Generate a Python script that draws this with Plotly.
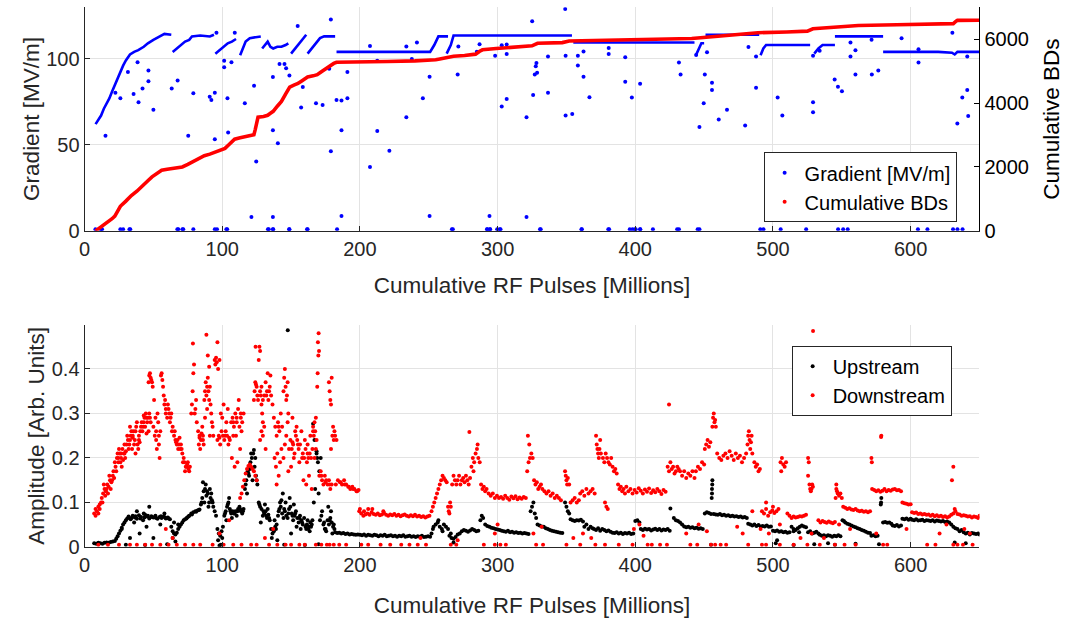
import plotly.graph_objects as go

# ---------------- Top panel data ----------------
# Gradient [MV/m]: dense conditioning plateaus (each sub-list is one continuous run)
grad_runs = [
    [(8, 62), (10, 64.5), (12, 67), (14, 71), (16, 74), (18, 77), (20, 81), (22, 85), (24, 88.5), (26, 92),
     (28, 96), (30, 99), (33, 102.5), (36, 104), (39, 105), (43, 107), (46, 109), (50, 111), (54, 113),
     (58, 114.5), (63, 114)],
    [(64, 104), (67, 106), (70, 108), (73, 110), (76, 111), (78, 113), (84, 113.5), (88, 113), (91, 113), (94, 114)],
    [(95, 103), (98, 105), (101, 107), (104, 109), (107, 110), (110, 111.5)],
    [(113, 102), (115, 106), (117, 110), (120, 112), (124, 112.5), (128, 113)],
    [(129, 106), (131, 108), (133, 110), (135, 107), (137, 106), (140, 107), (143, 107), (146, 108), (148, 109)],
    [(150, 103), (153, 106), (156, 109), (159, 112), (161, 114)],
    [(162, 103), (165, 106), (168, 109), (171, 112), (174, 113), (178, 113), (182, 113)],
    [(183, 104), (200, 104), (220, 104), (240, 104), (251, 104), (254, 108), (257, 113), (264, 113)],
    [(263, 103), (266, 108), (268, 113.5), (290, 113.5), (320, 113.5), (354, 113.5)],
    [(355, 109.5), (380, 109.5), (410, 109.5), (443, 109.5)],
    [(444, 102), (446, 106), (448, 109), (450, 109)],
    [(451, 114), (470, 114), (490, 114)],
    [(491, 102), (493, 106), (495, 108), (510, 108), (527, 108)],
    [(530, 103), (533, 106), (536, 108), (545, 108)],
    [(545, 113), (560, 113), (580, 113)],
    [(580, 104), (600, 104), (620, 104), (630, 103.5), (632, 102.5), (634, 104), (650, 104)],
]

# Gradient [MV/m]: isolated pulses (off-plateau points)
grad_points = [
    (15.2, 55.2), (22.4, 80.3), (26, 77.1), (31.5, 92.3), (35.6, 79.5), (38.5, 98), (39.2, 74.8), (42.1, 82.8),
    (46.4, 93.2), (46.4, 86.9), (50, 70.4), (63.3, 82.8), (67.6, 87.4), (75.3, 55.2), (79, 79.9), (90.9, 78),
    (92.1, 76.1), (94.6, 80.3), (94.6, 53.3), (95.8, 115.2), (101.4, 98.9), (101.4, 95.1), (103.8, 77.1),
    (104.3, 57.1), (106.7, 98), (109.1, 115.2), (116.4, 74.2), (121.2, 8), (123.1, 84.3), (124.7, 40.3),
    (136.8, 89.4), (136.8, 58.4), (136.8, 8), (140.4, 50.9), (141.6, 96.9), (145.2, 96.9), (146.4, 94.5),
    (148.8, 90.3), (154.8, 119), (158.5, 83.6), (157.3, 71.7), (168.1, 74.2), (172.9, 73.2), (177.7, 94.2),
    (178.9, 122.8), (178.9, 46.2), (183, 76.1), (186.6, 58.4), (186.6, 8.6), (186.6, 75.8), (190.9, 77.1),
    (190.9, 92.3), (207.3, 107.5), (207.3, 37.1), (212.6, 98.9), (212.6, 58), (221.4, 46.6), (233.7, 107.2),
    (233.7, 66), (237.7, 99.9), (241.4, 109.4), (245.7, 77.1), (250.6, 89.5), (250.6, 8.6), (271, 90.8),
    (271.5, 107.2), (284.9, 104.1), (286.9, 108.5), (294.1, 8.6), (298.2, 101.8), (303, 72.3), (303, 107.9),
    (306.6, 108.3), (306.6, 76.7), (306.6, 102.8), (321, 66), (321, 8), (325.1, 121.8), (325.8, 79),
    (327, 90.8), (327.7, 95.6), (328.2, 97.5), (328.7, 91.9), (336.6, 101.4), (336.6, 80.3), (349.1, 128.9),
    (349.4, 101.8), (349.4, 67), (354.2, 67.9), (358.3, 101.8), (358.3, 96.1), (362.4, 104.3), (362.4, 89.6),
    (366.7, 77.6), (380.7, 106.2), (380.7, 102.8), (392.7, 100.9), (392.7, 86.6), (397.5, 77.5), (403.5, 85.5),
    (431.7, 97.9), (432.9, 90.8), (444.2, 102.2), (446.6, 60.3), (449.7, 74.2), (450.5, 90.8), (452.1, 103.8),
    (455.7, 86.1), (455.7, 81.8), (460.6, 64.7), (466.6, 70.4), (479.8, 61.3), (482.2, 106.9), (487.7, 83.2),
    (487.7, 101.4), (503.4, 77.5), (506.8, 67), (529.1, 74.8), (529.1, 68.9), (529.1, 101.8), (533.9, 104.6),
    (544.8, 87.9), (547.2, 83.7), (550.1, 81.2), (556.3, 109.4), (556.3, 101.4), (559.9, 105), (559.9, 90.8),
    (571.8, 90.8), (571.6, 111.1), (576.5, 93.2), (593.4, 111.9), (605.7, 105.6), (605.7, 97.9), (618.2, 7.6),
    (630.3, 8.6), (630.3, 115.2), (633.9, 62.4), (637.5, 77.5), (641.1, 81.8), (641.8, 66.8), (641.1, 101.4),
    # pulses recorded at ~zero gradient
    (7.9, 1), (11.8, 1), (12.7, 1), (26, 1), (28, 1), (32.6, 1), (33.2, 1), (67.4, 1), (68.1, 1), (71.1, 1),
    (71.7, 1), (79, 1), (94.6, 1), (96.2, 1), (103, 1), (103.6, 1), (133.2, 1), (133.8, 1), (136.8, 1),
    (137, 1), (148.6, 1), (148.8, 1), (161.6, 1), (162, 1), (183.4, 1), (266.8, 1), (267.5, 1), (292.3, 1),
    (292.5, 1), (294.4, 1), (294.6, 1), (299.7, 1), (301.6, 1), (302.1, 1), (330.8, 1), (331.3, 1),
    (360.9, 1), (361.2, 1), (380.4, 1), (381, 1), (396, 1), (398, 1), (399.9, 1), (400.3, 1), (403.5, 1),
    (403.6, 1), (412.8, 1), (430.4, 1), (431.7, 1), (445.3, 1), (446.6, 1), (490.8, 1), (493.1, 1),
    (505.6, 1), (524.1, 1), (547.3, 1), (551, 1), (554.3, 1), (605.3, 1), (612.2, 1), (630.8, 1), (634, 1),
    (637.7, 1),
]

# Cumulative breakdowns
bd_x = [8, 10, 15, 20, 22, 26, 30, 34, 38, 42, 46, 49, 53, 56, 60, 63, 67, 71, 75, 78, 82, 87, 91, 95, 99,
        102, 104, 107, 109, 113, 116, 120, 123, 124, 125, 126, 130, 133, 135, 137, 140, 143, 146, 149, 152,
        155, 158, 162, 166, 169, 172, 175, 178, 181, 183, 200, 220, 240, 251, 255, 258, 263, 268, 276, 284,
        287, 289, 299, 310, 320, 325, 329, 340, 347, 352, 380, 410, 441, 460, 489, 510, 525, 529, 545, 562,
        590, 615, 631, 633, 634, 650]
bd_y = [0, 60, 206, 380, 461, 768, 930, 1107, 1240, 1390, 1570, 1691, 1800, 1895, 1925, 1946, 1965, 2000,
        2080, 2152, 2240, 2350, 2400, 2459, 2520, 2580, 2664, 2780, 2869, 2910, 2941, 2975, 3010, 3177, 3400,
        3556, 3580, 3617, 3680, 3740, 3900, 4048, 4280, 4500, 4560, 4611, 4700, 4816, 4850, 4888, 4980, 5072,
        5150, 5240, 5276, 5280, 5300, 5320, 5330, 5355, 5380, 5420, 5462, 5490, 5530, 5620, 5666, 5708, 5740,
        5770, 5790, 5871, 5885, 5892, 5943, 5970, 6000, 6020, 6090, 6200, 6225, 6250, 6323, 6370, 6425, 6450,
        6470, 6486, 6560, 6588, 6590]

# ---------------- Bottom panel data ----------------
upstream = [
    (7, .008), (8.5, .007), (10, .009), (11.5, .008), (13, .007), (14.5, .009), (16, .010), (17.5, .009),
    (19, .011), (20.5, .012), (22, .013),
    (23, .018), (24, .024), (25, .030), (26, .036), (27, .043), (28, .050), (29, .055), (30, .060), (31, .064),
    (32, .068), (33.5, .062), (35, .070), (36.5, .066), (38, .063), (39.5, .071), (41, .067), (42.5, .060),
    (44, .072), (45.5, .068), (47, .064), (48.5, .069), (50, .066), (51.5, .070), (53, .063), (54.5, .067),
    (56, .065), (57.5, .068), (59, .064), (60.5, .066), (62, .062),
    (34, .065), (37, .069), (40.5, .064), (43.5, .066), (46, .07), (49, .067), (52, .065), (55.5, .069),
    (58.5, .066), (61, .064),
    (27, .04), (33, .02), (40, .03), (45, .045), (50, .02), (55, .05), (38, .08), (47, .09), (58, .075),
    (43, .075), (36, .055),
    (63, .045), (64, .035), (65, .03), (66, .028), (67, .032), (68, .04), (69, .045), (70, .05), (71, .055),
    (72, .06), (64, .02), (66, .012), (68, .05), (65, .055),
    (73, .062), (74.5, .066), (76, .07), (77.5, .075), (79, .078), (80.5, .08), (82, .082), (83.5, .084),
    (74, .064), (75.5, .068), (78, .073), (81, .079), (83, .083),
    (84.5, .095), (85.5, .11), (86.5, .125), (87.5, .13), (88.5, .115), (89.5, .12), (90.5, .10), (91.5, .11),
    (92.5, .105), (93.5, .09), (94.5, .08), (95.5, .07), (86, .145), (88, .14), (90, .09), (92, .12),
    (87, .10), (91, .13), (85, .1), (89, .125), (93, .1),
    (96.5, .04), (97.5, .03), (98.5, .025), (99.5, .035), (100.5, .045), (97, .015), (99, .005), (100, .02),
    (101.5, .07), (102.5, .08), (103.5, .09), (104.5, .10), (105.5, .085), (106.5, .075), (107.5, .08),
    (103, .06), (105, .11), (107, .065), (102, .075), (104, .095), (106, .08),
    (108.5, .075), (109.5, .08), (110.5, .07), (111.5, .085), (112.5, .09), (113.5, .08), (114.5, .075),
    (115.5, .085), (109, .075), (111, .08), (113, .085), (115, .08),
    (116.5, .13), (117.5, .15), (118.5, .17), (119.5, .16), (120.5, .19), (121.5, .2), (122.5, .21),
    (123.5, .18), (124.5, .16), (125.5, .14), (118, .12), (120, .175), (122, .15), (124, .2), (121, .21),
    (123, .218), (117, .14), (119, .165), (125, .15),
    (126.5, .1), (127.5, .09), (128.5, .085), (129.5, .07), (130.5, .075), (131.5, .08), (132.5, .065),
    (133.5, .072), (134.5, .06), (128, .055), (131, .095), (133, .085), (127, .095), (130, .08), (132, .07),
    (134, .065),
    (135.5, .04), (136.5, .03), (137.5, .035), (138.5, .045), (139.5, .05), (140.5, .07), (141.5, .085),
    (142.5, .09), (143.5, .075), (144.5, .065), (136, .02), (138, .06), (140, .015), (142, .1), (144, .12),
    (143, .105), (139, .04), (141, .08),
    (145.5, .08), (146.5, .07), (147.5, .065), (148.5, .085), (149.5, .09), (150.5, .075), (151.5, .06),
    (152.5, .07), (153.5, .08), (154.5, .065), (155.5, .055), (156.5, .07), (157.5, .06), (158.5, .05),
    (159.5, .065), (147.6, .487), (146, .1), (149, .11), (152, .095), (154, .045), (157, .04), (150, .03),
    (145, .085), (148, .075), (151, .07), (153, .075), (156, .065), (158, .055),
    (160.5, .045), (161.5, .05), (162.5, .04), (163.5, .035), (164.5, .045), (165.5, .06), (166.5, .1),
    (167.5, .13), (168.5, .21), (169.5, .19), (170.5, .17), (171.5, .2), (172.5, .08), (173.5, .05),
    (174.5, .04), (175.5, .035), (166, .277), (167, .24), (168.5, .215), (169, .2), (162, .06), (164, .055),
    (170, .12), (171, .06), (174, .055), (161, .04), (163, .045), (165, .05), (172, .07), (175, .04),
    (176.5, .06), (177.5, .05), (178.5, .065), (179.5, .055), (180.5, .045), (181.5, .04), (177, .09),
    (179, .08), (180, .03), (178, .06), (181, .05),
    (182, .033), (183.5, .031), (185, .032), (186.5, .030), (188, .031), (189.5, .029), (191, .030),
    (192.5, .028), (194, .029), (195.5, .028), (197, .027), (198.5, .028),
    (200, .027), (201.5, .026), (203, .028), (204.5, .025), (206, .027), (207.5, .026), (209, .025),
    (210.5, .027), (212, .026), (213.5, .024), (215, .026), (216.5, .025), (218, .027), (219.5, .024),
    (221, .025), (222.5, .026), (224, .024), (225.5, .025), (227, .023), (228.5, .025), (230, .024),
    (231.5, .026), (233, .023), (234.5, .024), (236, .025), (237.5, .023), (239, .024), (240.5, .022),
    (242, .024), (243.5, .023), (245, .025), (246.5, .022), (248, .023), (249.5, .024), (251, .023),
    (252, .03), (253, .04), (253.5, .045), (255, .05), (256.5, .055), (258, .045), (259.5, .04), (261, .05),
    (262.5, .045), (264, .04), (257, .06), (260, .035),
    (265, .025), (266.5, .02), (268, .018), (269.5, .022), (271, .028), (272.5, .03), (266, .03), (268, .01),
    (274, .035), (275.5, .038), (277, .036), (278.5, .034), (280, .037), (281.5, .04), (283, .038),
    (284.5, .035), (286, .036),
    (287.5, .06), (288.5, .07), (289.5, .065),
    (291, .05), (292.5, .047), (294, .045), (295.5, .043), (297, .042), (298.5, .04), (300, .039),
    (301.5, .038),
    (303, .036), (304.5, .035), (306, .034), (307.5, .036), (309, .033), (310.5, .034), (312, .032),
    (313.5, .033), (315, .031), (316.5, .032), (318, .030), (319.5, .031), (321, .030), (322.5, .029),
    (324, .08), (325, .09), (326, .1), (327, .075), (328, .065),
    (329, .05), (330.5, .048), (332, .046), (333.5, .045), (335, .042), (336.5, .04), (338, .038),
    (339.5, .036), (341, .035), (342.5, .034), (344, .033), (345.5, .032), (347, .031),
    (349, .1), (350, .09), (351, .08), (352, .075),
    (353, .062), (354.5, .06), (356, .058), (357.5, .06), (359, .059), (360.5, .061), (362, .057),
    (363, .045), (364.5, .05), (366, .04), (367.5, .045), (369, .042),
    (370, .04), (371.5, .038), (373, .042), (374.5, .036), (376, .04), (377.5, .038), (379, .035),
    (380.5, .037), (382, .034),
    (383.5, .032), (385, .031), (386.5, .033), (388, .03), (389.5, .032), (391, .029), (392.5, .031),
    (394, .03), (395.5, .032), (397, .029), (398.5, .03),
    (400, .058), (401.5, .06), (403, .055),
    (404, .04), (405.5, .038), (407, .041), (408.5, .039), (410, .04), (411.5, .037), (413, .039),
    (414.5, .041), (416, .038), (417.5, .04), (419, .037), (420.5, .039), (422, .038), (423.5, .04),
    (425, .036), (425.5, .086),
    (428, .065), (429.5, .06), (431, .058), (432.5, .055), (434, .05),
    (435.5, .046), (437, .044), (438.5, .045), (440, .043), (441.5, .044), (443, .042), (444.5, .043),
    (446, .041), (447.5, .042), (449, .04),
    (450.5, .075), (452, .078), (453.5, .076), (455, .074),
    (455.7, .12), (455.7, .13), (455.9, .14), (456, .15), (455.5, .11),
    (457, .074), (458.5, .073), (460, .072), (461.5, .074), (463, .071), (464.5, .072), (466, .07),
    (467.5, .071), (469, .069), (470.5, .07), (472, .068), (473.5, .069), (475, .067), (476.5, .068),
    (478, .066), (479.5, .067), (481, .065),
    (482, .052), (483.5, .05), (485, .048), (486.5, .05), (488, .047), (489.5, .049), (491, .046),
    (492.5, .047), (494, .046), (495.5, .048), (497, .045), (498.5, .046),
    (500, .036), (501.5, .035), (503, .037), (504.5, .034), (506, .035), (507.5, .033), (509, .034),
    (510.5, .032), (512, .033),
    (513.5, .045), (515, .04), (516.5, .038), (518, .042), (519.5, .045), (521, .048), (522.5, .046),
    (524, .044), (515, .035), (519, .033),
    (525.5, .033), (527, .035), (528.5, .03), (530, .032), (531.5, .034), (533, .03),
    (534, .027), (535.5, .025), (537, .026), (538.5, .024), (540, .026), (541.5, .025), (543, .023),
    (544.5, .025), (546, .024), (547.5, .026), (549, .024),
    (550.5, .06), (551.5, .058),
    (552.5, .055), (554, .052), (555.5, .05), (557, .048), (558.5, .046), (560, .044), (561.5, .042),
    (563, .04), (564.5, .038), (566, .036), (567.5, .034), (569, .032), (570.5, .031),
    (571.5, .025), (573, .026), (574.5, .024), (576, .025),
    (578.5, .1), (578.7, .11), (578.3, .095),
    (580, .055), (581.5, .056), (583, .054), (584.5, .055), (586, .052),
    (587, .048), (588.5, .047), (590, .049), (591.5, .046), (593, .048),
    (594, .063), (595.5, .062), (597, .064), (598.5, .061), (600, .063),
    (601, .061), (602.5, .06), (604, .062), (605.5, .059), (607, .06), (608.5, .061), (610, .058),
    (611.5, .06), (613, .059), (614.5, .058), (616, .06), (617.5, .057), (619, .059), (620.5, .058),
    (622, .057), (623.5, .058), (625, .056), (626.5, .057), (628, .055),
    (629.5, .05), (631, .045), (632.5, .042), (634, .04), (635.5, .035), (637, .038), (638.5, .033),
    (640, .03), (641.5, .032), (643, .028), (644.5, .031), (646, .03), (647.5, .029), (649, .03), (650, .028),
    (30, .005), (44, .004), (60, .006), (98, .003), (145, .005), (160, .004), (170, .006), (455, .005),
    (502, .008), (503, .015), (515, .004), (530, .006), (540, .008), (545, .005), (560, .007), (577, .006),
    (632, .01), (640, .008),
]

downstream = [
    (7, .075), (8, .085), (9, .08), (10, .09), (11, .095), (12, .1), (8, .07), (10, .075), (11, .085),
    (12.5, .11), (13.5, .12), (14.5, .13), (15.5, .125), (16.5, .14), (17.5, .135), (18.5, .15), (19.5, .145),
    (20.5, .16), (21.5, .155), (13, .1), (15, .115), (17, .12), (19, .13), (21, .17), (14, .14), (18, .16),
    (16, .13), (20, .15), (22, .19),
    (22.5, .18), (23.5, .2), (24.5, .19), (25.5, .21), (26.5, .2), (27.5, .22), (28.5, .21), (29.5, .2),
    (30.5, .23), (23, .17), (25, .22), (27, .18), (29, .23), (24, .21), (26, .19), (28, .195), (30, .215),
    (24.5, .2), (26.5, .21), (29, .21),
    (31.5, .24), (32.5, .23), (33.5, .25), (34.5, .22), (35.5, .26), (36.5, .24), (37.5, .27), (38.5, .23),
    (39.5, .25), (40.5, .26), (32, .22), (34, .26), (36, .23), (38, .28), (40, .235), (33, .27), (35, .245),
    (37, .21), (39, .22), (31, .25), (33, .24), (35, .25), (37, .26), (39.5, .24),
    (41.5, .28), (42.5, .27), (43.5, .29), (44.5, .3), (45.5, .28), (46.5, .26), (47.5, .29), (42, .26),
    (44, .27), (46, .29), (43, .295), (45, .255), (47, .3), (41, .27), (43, .28), (45, .29), (48, .28),
    (46.5, .37), (47, .385), (47.5, .39), (48, .38), (48.5, .375), (49, .37), (49.5, .36),
    (50, .27), (51, .25), (52, .24), (53, .3), (54, .23), (55, .26), (50.5, .33), (51.5, .29), (52.5, .22),
    (53.5, .28), (54.5, .2), (52, .26), (54, .25),
    (55.5, .385), (56, .39), (56.5, .375), (57, .36), (57.5, .34),
    (58, .32), (59, .3), (60, .29), (61, .31), (62, .28), (63, .3), (64, .27), (58.5, .33), (60.5, .32),
    (62.5, .29), (63.5, .26), (59, .31), (61.5, .3),
    (65, .25), (66, .24), (67, .23), (68, .22), (69, .245), (70, .23), (71, .21), (72, .2), (65.5, .26),
    (67.5, .24), (69.5, .22), (71.5, .19), (66.5, .235), (68.5, .23), (70.5, .22),
    (72.5, .19), (73.5, .18), (74.5, .185), (75.5, .175), (76.5, .18), (73, .17), (75, .19), (76, .17),
    (74, .18),
    (77.5, .3), (78, .32), (78.5, .35), (79, .39), (79.5, .41), (80, .3), (80.5, .31), (81, .33), (81.5, .28),
    (78.7, .457),
    (82.5, .26), (83.5, .25), (84.5, .24), (85.5, .27), (86.5, .23), (83, .23), (85, .255), (86, .24),
    (84, .22), (83.5, .245), (86, .25),
    (87, .33), (87.5, .35), (88, .37), (88.5, .34), (89, .36), (89.5, .38), (90, .35), (90.5, .33), (91, .36),
    (91.5, .32), (92, .3), (92.5, .28), (88.5, .477), (89.5, .43), (90.5, .405), (87.5, .29), (93, .27),
    (93.5, .25), (91, .25), (89, .31),
    (94.5, .42), (95, .41), (95.5, .425), (96, .415), (96.5, .46), (97, .4), (98, .42),
    (96.5, .24), (97.5, .25), (98.5, .23), (99.5, .26), (100.5, .25), (101.5, .24), (102.5, .26),
    (103.5, .25), (104.5, .23), (105.5, .24), (99, .3), (101, .32), (103, .28), (104, .31), (100, .29),
    (98, .245), (102, .25), (105, .245),
    (106.5, .28), (107.5, .29), (108.5, .27), (109.5, .3), (110.5, .28), (111.5, .31), (112.5, .27),
    (113.5, .29), (114.5, .28), (115.5, .3), (107, .2), (109, .18), (111, .19), (113, .22), (108, .25),
    (110, .25), (112, .33), (114, .26), (108, .28), (110.5, .29), (113.5, .3),
    (113, .11), (114, .12), (115, .135), (116, .15), (117, .165), (118, .175), (119, .182), (120, .185),
    (121, .18), (122, .175), (123, .17), (124, .16), (125, .15),
    (123, .33), (123.5, .35), (124, .37), (124.5, .365), (125, .36), (125.5, .34), (126, .33), (126.5, .42),
    (127, .45), (127.5, .44), (128, .34), (128.5, .32), (129, .3), (129.5, .28), (124.2, .45),
    (127.5, .35), (128.5, .36), (129.5, .33), (130.5, .34), (131.5, .37), (132.5, .35), (133.5, .33),
    (134.5, .36), (135.5, .34), (136.5, .32), (127.5, .24), (128.5, .26), (129.5, .25), (130.5, .27),
    (131.5, .22), (133, .39), (135, .385), (132, .34), (134, .35),
    (137.5, .29), (138.5, .27), (139.5, .25), (140.5, .28), (141.5, .26), (142.5, .3), (143.5, .27),
    (138, .2), (139, .18), (140, .21), (141, .16), (142, .19), (143, .22), (139.5, .14), (141, .27),
    (144.5, .35), (145, .38), (145.5, .4), (146, .36), (146.5, .33), (147, .34), (147.5, .37), (148, .3),
    (144.5, .2), (145.5, .23), (146.5, .25), (147.5, .28), (148.5, .22), (148, .17),
    (149.5, .24), (150.5, .22), (151.5, .23), (152.5, .21), (153.5, .25), (154.5, .24), (155.5, .22),
    (156.5, .23), (157.5, .26), (150, .18), (152, .2), (154, .27), (156, .19), (151, .29), (153, .26),
    (151, .235), (155, .23), (158, .2),
    (158.5, .21), (159.5, .2), (160.5, .22), (161.5, .19), (162.5, .2), (163.5, .21), (164.5, .2),
    (165.5, .22), (159, .15), (161, .14), (163, .16), (165, .13), (160, .24), (162, .23), (164, .25),
    (162, .21),
    (166, .27), (166.5, .25), (167, .28), (167.5, .26), (168, .29), (168.5, .24), (169.5, .46), (170, .48),
    (170.3, .44), (169.8, .43), (169, .36), (169.3, .39), (167, .2), (168, .22), (166, .26),
    (170.5, .16), (171.5, .17), (172.5, .15), (173.5, .14), (174.5, .16), (175.5, .15), (176.5, .14),
    (177.5, .15), (178.5, .13), (179.5, .14), (172, .16), (175, .145), (178, .14),
    (177.5, .37), (178, .35), (178.5, .33), (179, .32), (179.5, .38), (180, .25), (180.5, .27), (181, .24),
    (181.5, .26), (182, .25), (183, .24), (179, .22),
    (182.5, .14), (184, .15), (185.5, .145), (187, .14), (188.5, .15), (190, .14), (191.5, .135), (193, .13),
    (194.5, .135), (196, .13), (197.5, .125), (199, .128), (186, .145), (189, .14), (192, .135), (195, .13),
    (198, .125),
    (199.5, .08), (201, .075), (202.5, .07), (204, .073), (205.5, .075), (207, .072), (208.5, .078),
    (200, .085), (203, .08), (206, .085),
    (210, .074), (211.5, .072), (213, .075), (214.5, .071), (216, .073), (217.5, .076), (219, .072),
    (220.5, .07), (222, .073), (223.5, .071), (225, .074), (226.5, .07), (228, .072), (229.5, .069),
    (231, .071), (232.5, .073), (234, .07), (235.5, .068), (237, .071), (238.5, .069), (240, .072),
    (241.5, .068), (243, .07), (244.5, .067), (246, .069), (247.5, .066), (249, .068), (250.5, .07),
    (209, .085), (217, .08),
    (252, .08), (253, .09), (254, .1), (255, .11), (256, .12), (257, .13), (258, .14), (259, .15), (260, .16),
    (261, .155),
    (262, .15), (263, .145), (264, .09), (264.5, .08), (265, .075), (265.5, .1), (266, .09), (267, .14),
    (268, .16), (269, .15), (270, .14),
    (271, .15), (272, .16), (273, .14), (274, .15), (275, .155), (276, .145), (277, .16), (278, .15),
    (279, .14), (280, .155), (279.5, .258),
    (281, .18), (282, .2), (283, .19), (284, .21), (285, .22), (286, .2), (287, .19), (282.5, .17),
    (285.5, .23),
    (288, .14), (289, .13), (290, .135), (291, .125), (292, .13), (293.5, .12), (295, .115), (296.5, .12),
    (298, .11), (299.5, .115), (301, .11),
    (302.5, .112), (304, .108), (305.5, .115), (307, .11), (308.5, .106), (310, .113), (311.5, .109),
    (313, .114), (314.5, .107), (316, .111), (317.5, .108), (319, .112), (320.5, .11),
    (321.5, .17), (322.5, .19), (323.5, .2), (324.5, .21), (325.5, .2), (322, .25), (323, .23),
    (326.5, .15), (327.5, .14), (328.5, .145), (329.5, .13), (330.5, .135), (331.5, .14), (332.5, .13),
    (334, .125), (335.5, .12), (337, .125), (338.5, .115), (340, .12), (341.5, .11), (343, .115),
    (344.5, .11), (346, .105),
    (349, .17), (349.5, .16), (350, .15), (350.5, .14), (351, .155), (352, .14),
    (353, .1), (354.5, .105), (356, .11), (357.5, .1), (359, .105),
    (360, .12), (361.5, .125), (363, .115), (364.5, .13), (366, .12), (367.5, .125), (369, .13), (370.5, .12),
    (371.5, .25), (372, .23), (372.5, .22), (373, .21), (373.5, .2), (374, .22), (374.5, .24), (375, .21),
    (376.5, .2), (377.5, .19), (378.5, .21), (379.5, .2), (380.5, .19), (381.5, .185), (382.5, .2),
    (378, .1), (379, .09), (380, .085),
    (383.5, .18), (384.5, .17), (385.5, .175), (386.5, .165),
    (387.5, .14), (388.5, .13), (389.5, .135), (390.5, .125), (391.5, .13), (392.5, .12), (393.5, .135),
    (395, .125), (396.5, .13), (398, .12), (399.5, .128), (401, .122), (402.5, .132), (404, .126),
    (405.5, .12), (407, .129), (408.5, .124), (410, .131), (411.5, .121), (413, .127), (414.5, .123),
    (416, .13), (417.5, .125), (419, .119), (420.5, .128), (422, .124),
    (423.5, .18), (424.5, .17), (425.5, .19), (426.5, .175), (427.5, .18), (428.5, .165), (429.5, .17),
    (430.5, .18), (431.5, .175), (432.5, .17), (424.5, .32),
    (434, .16), (435.5, .17), (437, .155), (438.5, .165), (440, .16), (441.5, .17), (443, .155),
    (444, .17), (445.5, .18), (447, .175), (448.5, .19), (450, .185),
    (450.5, .22), (451.5, .23), (452.5, .24), (453.5, .225), (454.5, .235),
    (456, .27), (456.5, .29), (457, .3), (457.5, .28), (458, .285), (458.5, .27),
    (459.5, .21), (461, .2), (462.5, .195), (464, .205), (465.5, .21), (467, .2), (468.5, .215), (470, .205),
    (471.5, .195), (473, .21), (474.5, .2), (476, .205), (477.5, .19), (479, .2), (480.5, .21),
    (481.5, .23), (482, .25), (482.5, .26), (483, .24), (483.5, .22), (484, .235), (484.5, .25), (485, .21),
    (486.5, .19), (487.5, .18), (488.5, .185), (489.5, .17), (490.5, .175),
    (492, .08), (493.5, .075), (495, .085), (496.5, .07), (498, .078), (499.5, .082), (501, .076),
    (502.5, .08), (504, .085), (495, .1), (500, .09),
    (505.5, .19), (506.5, .2), (507.5, .185), (508.5, .18), (509.5, .19), (506, .17),
    (510.5, .075), (512, .07),
    (513.5, .065), (515, .068), (516.5, .066), (518, .067), (519.5, .069), (521, .068), (522.5, .07),
    (524, .072),
    (525.5, .2), (526, .19), (526.5, .14), (527, .13), (527.5, .125), (528, .13), (528.5, .14), (529, .135),
    (525.5, .16), (529.1, .485),
    (533, .06), (534.5, .055), (536, .058), (537.5, .056), (539, .054), (540.5, .057), (542, .055),
    (543.5, .053), (545, .056),
    (545.5, .11), (546, .13), (546.5, .125), (547, .12), (548, .115), (549, .12), (550, .11), (546, .14),
    (551, .09), (552.5, .088), (554, .085), (555.5, .087), (557, .084), (558.5, .083), (560, .085),
    (561.5, .082), (563, .08), (564.5, .081), (566, .079), (567.5, .08), (569, .078), (570.5, .08),
    (572, .13), (573.5, .128), (575, .125), (576.5, .127), (578, .124), (579.5, .126), (581, .13),
    (582.5, .125), (584, .128), (585.5, .126), (587, .129), (588.5, .13), (590, .127), (591.5, .128),
    (593, .125), (578.5, .247), (578.7, .25), (571.5, .2), (571.8, .19),
    (594, .1), (595.5, .098), (597, .097), (598.5, .095), (600, .096),
    (601, .078), (602.5, .076), (604, .077), (605.5, .074), (607, .075), (608.5, .073), (610, .074),
    (611.5, .072), (613, .073), (614.5, .07), (616, .072), (617.5, .069), (619, .071), (620.5, .068),
    (622, .07), (623.5, .067), (625, .069), (626.5, .066), (628, .068),
    (629.5, .072), (631, .075), (632.5, .08), (634, .074), (635.5, .073), (637, .07), (638.5, .071),
    (631, .18), (630, .15), (632, .085),
    (640, .07), (641.5, .068), (643, .069), (644.5, .066), (646, .068), (647.5, .067), (649, .065), (650, .07),
    # near-zero pulses
    (10, .005), (17, .005), (25, .005), (33, .005), (38, .005), (44, .005), (49, .005), (55, .005),
    (61, .005), (67, .005), (73, .005), (79, .005), (84, .005), (93, .005), (101, .005), (108, .005),
    (114, .005), (121, .005), (125, .005), (134, .005), (140, .005), (146, .005), (150, .005), (156, .005),
    (160, .005), (168, .005), (172, .005), (176, .005), (178, .005), (181, .005), (185, .005), (190, .005),
    (201, .005), (206, .005), (215, .005), (222, .005), (230, .005), (236, .005), (242, .005), (248, .005),
    (266, .005), (270, .005), (290, .005), (298, .005), (302, .005), (306, .005), (328, .005), (333, .005),
    (350, .005), (360, .005), (371, .005), (378, .005), (388, .005), (398, .005), (409, .005), (412, .005),
    (418, .005), (423, .005), (440, .005), (445, .005), (455, .005), (458, .005), (462, .005), (466, .005),
    (482, .005), (492, .005), (495, .005), (505, .005), (515, .005), (525, .005), (534, .005), (545, .005),
    (552, .005), (560, .005), (580, .005), (583, .005), (612, .005), (618, .005), (631, .005), (634, .005),
    (638, .005), (645, .005),
    (59, .04), (64, .02), (98, .03), (105, .06), (131, .02), (137, .04), (244, .02), (271, .015), (298, .03),
    (300, .05), (326, .03), (332, .045), (355, .02), (362, .03), (368, .02), (399, .04), (403, .05),
    (406, .025), (437, .03), (446, .05), (452, .035), (474, .045), (478, .03), (485, .08), (491, .04),
    (497, .03), (505, .05), (520, .02), (528, .03), (537, .02), (548, .05), (556, .04), (575, .03),
    (597, .04), (621, .03), (626, .05), (639, .04), (643, .03),
]

x_ticks = [0, 100, 200, 300, 400, 500, 600]
grad_ticks = [0, 50, 100]
bd_ticks = [0, 2000, 4000, 6000]
amp_ticks = [0, 0.1, 0.2, 0.3, 0.4]
amp_tick_text = ["0", "0.1", "0.2", "0.3", "0.4"]

# ---------------- Build figure ----------------
band_x, band_y = [], []
for run in grad_runs:
    for px_, py_ in run:
        band_x.append(px_)
        band_y.append(py_)
    band_x.append(None)
    band_y.append(None)

FONT = "Liberation Sans, Arial, Helvetica, sans-serif"
AX = "#262626"
GRID = "#e3e3e3"
TICK_SIZE = 20
TITLE_SIZE = 22.5
LEG_SIZE = 20

fig = go.Figure()
fig.add_trace(go.Scatter(x=band_x, y=band_y, mode="lines", line=dict(color="#0000ff", width=2.6),
                         xaxis="x", yaxis="y", showlegend=False, hoverinfo="skip", connectgaps=False))
fig.add_trace(go.Scatter(x=[p[0] for p in grad_points], y=[p[1] for p in grad_points], mode="markers",
                         marker=dict(color="#0000ff", size=4), name="Gradient [MV/m]",
                         xaxis="x", yaxis="y", legend="legend"))
fig.add_trace(go.Scatter(x=bd_x, y=bd_y, mode="lines", line=dict(color="#ff0000", width=3.6),
                         xaxis="x", yaxis="y2", showlegend=False))
fig.add_trace(go.Scatter(x=[None], y=[None], mode="markers", marker=dict(color="#ff0000", size=4),
                         name="Cumulative BDs", xaxis="x", yaxis="y2", legend="legend"))
fig.add_trace(go.Scatter(x=[p[0] for p in upstream], y=[p[1] for p in upstream], mode="markers",
                         marker=dict(color="#000000", size=4), name="Upstream",
                         xaxis="x2", yaxis="y3", legend="legend2"))
fig.add_trace(go.Scatter(x=[p[0] for p in downstream], y=[p[1] for p in downstream], mode="markers",
                         marker=dict(color="#ff0000", size=4), name="Downstream",
                         xaxis="x2", yaxis="y3", legend="legend2"))

W, H = 1067, 623
x_dom = [79 / W, 979 / W]
top_dom = [1 - 235 / H, 1 - 7.3 / H]
bot_dom = [1 - 556.7 / H, 1 - 330.7 / H]

common = dict(ticks="inside", ticklen=5, tickcolor=AX, showline=True, linecolor=AX, linewidth=1,
              zeroline=False, tickfont=dict(family=FONT, size=TICK_SIZE, color=AX))

fig.update_layout(
    width=W, height=H, margin=dict(l=0, r=0, t=0, b=0),
    paper_bgcolor="white", plot_bgcolor="white",
    font=dict(family=FONT, color=AX),
    xaxis=dict(domain=x_dom, anchor="y", range=[0, 650], tickvals=x_ticks, showgrid=True, gridcolor=GRID,
               title=dict(text="Cumulative RF Pulses [Millions]", font=dict(size=TITLE_SIZE, color=AX),
                          standoff=18), **common),
    yaxis=dict(domain=top_dom, anchor="x", range=[0, 130], tickvals=grad_ticks, showgrid=True, gridcolor=GRID,
               title=dict(text="Gradient [MV/m]", font=dict(size=TITLE_SIZE, color=AX), standoff=0), **common),
    yaxis2=dict(overlaying="y", side="right", anchor="x", range=[0, 7000], tickvals=bd_ticks, showgrid=False,
                ticks="inside", ticklen=5, tickcolor="#000", showline=True, linecolor="#000", linewidth=1,
                zeroline=False, tickfont=dict(family=FONT, size=TICK_SIZE, color="#000"),
                title=dict(text="Cumulative BDs", font=dict(size=TITLE_SIZE, color="#000"), standoff=15)),
    xaxis2=dict(domain=x_dom, anchor="y3", range=[0, 650], tickvals=x_ticks, showgrid=True, gridcolor=GRID,
                title=dict(text="Cumulative RF Pulses [Millions]", font=dict(size=TITLE_SIZE, color=AX),
                           standoff=22), **common),
    yaxis3=dict(domain=bot_dom, anchor="x2", range=[0, 0.499], tickvals=amp_ticks, ticktext=amp_tick_text,
                showgrid=True, gridcolor=GRID,
                title=dict(text="Amplitude [Arb. Units]", font=dict(size=TITLE_SIZE, color=AX), standoff=0),
                **common),
    legend=dict(x=956 / W, xanchor="right", y=1 - 155 / H, yanchor="top", bgcolor="white",
                bordercolor=AX, borderwidth=1, font=dict(family=FONT, size=LEG_SIZE, color="#000"),
                tracegroupgap=0),
    legend2=dict(x=951 / W, xanchor="right", y=1 - 352 / H, yanchor="top", bgcolor="white",
                 bordercolor=AX, borderwidth=1, font=dict(family=FONT, size=LEG_SIZE, color="#000"),
                 tracegroupgap=0),
)

fig.write_html("out.html")
